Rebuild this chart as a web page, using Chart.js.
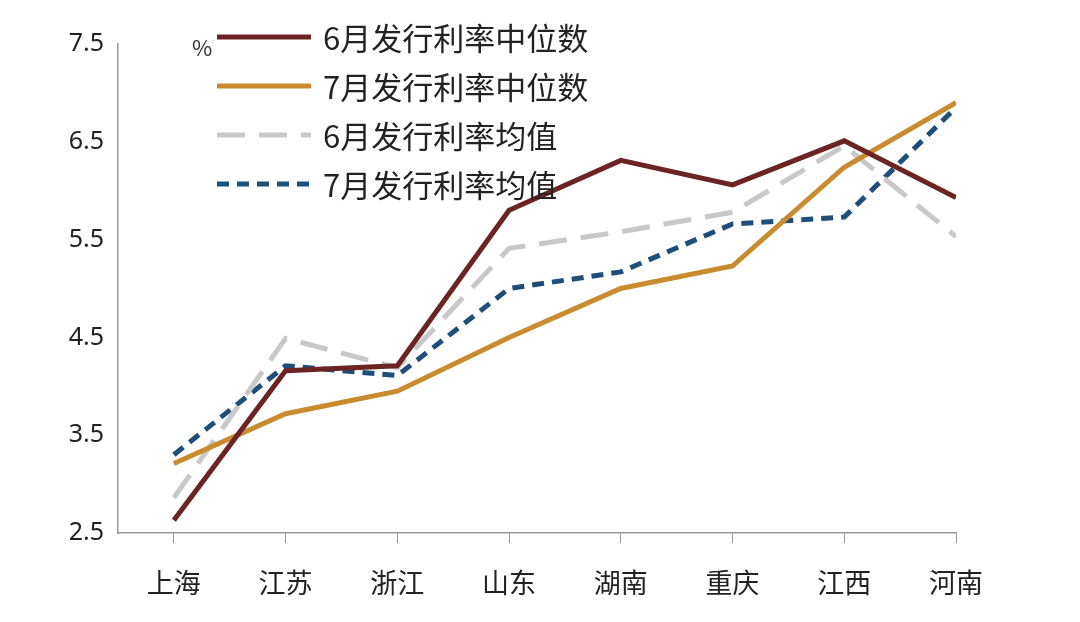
<!DOCTYPE html>
<html><head><meta charset="utf-8">
<script src="https://cdn.jsdelivr.net/npm/chart.js@4"></script>
<style>
body{margin:0;background:#fff;font-family:"Noto Sans CJK SC","Noto Sans",sans-serif;}
#wrap{position:relative;width:1080px;height:622px;}
#legend{position:absolute;left:215px;top:12px;font-size:31px;color:#222;line-height:49px;}
.item{display:flex;align-items:center;}
.item svg{margin-right:10px;}
#pct{position:absolute;left:192px;top:30px;font-size:22px;color:#333;}
</style></head>
<body><div id="wrap"><canvas id="c" width="1080" height="622"></canvas>
<div id="pct">%</div><div id="legend"></div></div>
<script>
const categories=["上海","江苏","浙江","山东","湖南","重庆","江西","河南"];
const junMedian=[2.63,4.16,4.21,5.80,6.31,6.06,6.51,5.93];
const julMedian=[3.21,3.72,3.95,4.50,5.00,5.23,6.24,6.90];
const junMean=[2.86,4.49,4.19,5.41,5.58,5.78,6.46,5.53];
const julMean=[3.30,4.21,4.11,5.00,5.17,5.66,5.73,6.85];
const yTicks=[2.5,3.5,4.5,5.5,6.5,7.5];
const series=[
 {label:"6月发行利率中位数",data:junMedian,color:"#6B2424",dash:[]},
 {label:"7月发行利率中位数",data:julMedian,color:"#C98B2F",dash:[]},
 {label:"6月发行利率均值",data:junMean,color:"#C8C8C8",dash:[28,14]},
 {label:"7月发行利率均值",data:julMean,color:"#1F4E79",dash:[12,8]}
];
const lg=document.getElementById('legend');
series.forEach(s=>{
 const d=document.createElement('div');d.className='item';
 d.innerHTML=`<svg width="98" height="10"><line x1="2" y1="5" x2="96" y2="5" stroke="${s.color}" stroke-width="5" stroke-dasharray="${s.dash.join(',')}"/></svg><span>${s.label}</span>`;
 lg.appendChild(d);
});
new Chart(document.getElementById('c'),{
 type:'line',
 data:{datasets:series.map(s=>({label:s.label,data:s.data.map((v,i)=>({x:i,y:v})),borderColor:s.color,borderWidth:5,borderDash:s.dash,pointRadius:0,tension:0,fill:false}))},
 options:{responsive:false,animation:false,
  layout:{padding:{top:44,right:124,left:0,bottom:0}},
  plugins:{legend:{display:false},tooltip:{enabled:false}},
  scales:{
   x:{type:'linear',min:-0.5,max:7,
    afterBuildTicks:s=>{s.ticks=categories.map((c,i)=>({value:i}));},
    afterFit:s=>{s.height=89;},
    ticks:{callback:v=>categories[v],font:{size:27,family:"Noto Sans CJK SC"},color:'#222',padding:24,maxRotation:0,autoSkip:false},
    grid:{drawOnChartArea:false,drawTicks:true,tickLength:10,color:'#999'},
    border:{color:'#999',width:1.5}},
   y:{min:2.5,max:7.5,
    afterBuildTicks:s=>{s.ticks=yTicks.map(v=>({value:v}));},
    afterFit:s=>{s.width=118;},
    ticks:{callback:v=>v.toFixed(1),font:{size:25,family:"Noto Sans"},color:'#222',padding:14},
    grid:{drawOnChartArea:false,drawTicks:false},
    border:{color:'#999',width:1.5}}
  }}
});
</script></body></html>
